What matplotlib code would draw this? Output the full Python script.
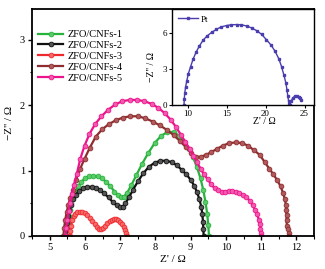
import matplotlib
matplotlib.use("Agg")
import matplotlib.pyplot as plt
from matplotlib.ticker import MultipleLocator

plt.rcParams["font.family"] = ["Liberation Serif", "DejaVu Serif"]
plt.rcParams["mathtext.fontset"] = "stix"

# ---------------- data ----------------
labels = ["ZFO/CNFs-1", "ZFO/CNFs-2", "ZFO/CNFs-3", "ZFO/CNFs-4", "ZFO/CNFs-5"]

x1 = [5.50, 5.51, 5.52, 5.54, 5.57, 5.61, 5.66, 5.73, 5.81, 5.90, 6.00, 6.12, 6.24, 6.36,
      6.48, 6.60, 6.72, 6.84, 6.94, 7.02, 7.10, 7.20, 7.32, 7.46, 7.62, 7.80, 7.98, 8.16,
      8.34, 8.52, 8.68, 8.82, 8.95, 9.07, 9.18, 9.28, 9.36, 9.42, 9.47, 9.50, 9.52]
y1 = [0.00, 0.10, 0.20, 0.30, 0.40, 0.50, 0.59, 0.68, 0.76, 0.83, 0.88, 0.91, 0.92, 0.91,
      0.88, 0.83, 0.76, 0.68, 0.62, 0.59, 0.60, 0.66, 0.78, 0.93, 1.10, 1.27, 1.42, 1.53,
      1.59, 1.59, 1.53, 1.44, 1.33, 1.20, 1.05, 0.88, 0.70, 0.52, 0.34, 0.17, 0.00]

x2 = [5.47, 5.48, 5.50, 5.52, 5.55, 5.60, 5.66, 5.74, 5.84, 5.95, 6.07, 6.19, 6.31, 6.43,
      6.55, 6.67, 6.79, 6.90, 6.99, 7.07, 7.15, 7.25, 7.37, 7.51, 7.66, 7.82, 7.98, 8.14,
      8.30, 8.46, 8.61, 8.75, 8.88, 9.00, 9.10, 9.18, 9.25, 9.30, 9.33, 9.35, 9.36, 9.37]
y2 = [0.00, 0.10, 0.20, 0.30, 0.39, 0.48, 0.56, 0.63, 0.69, 0.73, 0.75, 0.75, 0.73, 0.70,
      0.65, 0.59, 0.52, 0.47, 0.44, 0.45, 0.50, 0.59, 0.71, 0.84, 0.96, 1.06, 1.12, 1.15,
      1.15, 1.13, 1.08, 1.01, 0.94, 0.86, 0.77, 0.67, 0.56, 0.45, 0.34, 0.22, 0.11, 0.00]

x3 = [5.58, 5.59, 5.61, 5.64, 5.68, 5.73, 5.79, 5.86, 5.93, 6.00, 6.07, 6.14, 6.21, 6.28,
      6.34, 6.40, 6.46, 6.52, 6.58, 6.64, 6.70, 6.76, 6.82, 6.88, 6.94, 7.00, 7.05, 7.10,
      7.14, 7.17, 7.20]
y3 = [0.00, 0.08, 0.16, 0.24, 0.30, 0.34, 0.36, 0.37, 0.37, 0.35, 0.32, 0.28, 0.23, 0.18,
      0.14, 0.11, 0.10, 0.12, 0.16, 0.20, 0.23, 0.25, 0.26, 0.26, 0.25, 0.22, 0.18, 0.13,
      0.09, 0.05, 0.00]

x4 = [5.39, 5.41, 5.44, 5.48, 5.53, 5.58, 5.65, 5.74, 5.86, 5.99, 6.14, 6.31, 6.49, 6.68,
      6.88, 7.08, 7.29, 7.50, 7.71, 7.92, 8.13, 8.33, 8.52, 8.70, 8.86, 9.01, 9.15, 9.29,
      9.43, 9.58, 9.74, 9.91, 10.09, 10.28, 10.46, 10.63, 10.80, 10.96, 11.10, 11.23,
      11.35, 11.46, 11.55, 11.62, 11.67, 11.70, 11.71, 11.72, 11.72, 11.73, 11.76, 11.78,
      11.80]
y4 = [0.00, 0.12, 0.24, 0.36, 0.47, 0.58, 0.70, 0.85, 1.02, 1.18, 1.35, 1.52, 1.63, 1.71,
      1.77, 1.81, 1.83, 1.83, 1.80, 1.75, 1.69, 1.62, 1.54, 1.45, 1.36, 1.27, 1.21, 1.21,
      1.24, 1.28, 1.33, 1.38, 1.42, 1.43, 1.42, 1.38, 1.31, 1.24, 1.13, 1.03, 0.94, 0.85,
      0.76, 0.66, 0.57, 0.48, 0.40, 0.32, 0.24, 0.16, 0.10, 0.05, 0.00]

x5 = [5.45, 5.47, 5.50, 5.54, 5.58, 5.63, 5.69, 5.77, 5.87, 5.99, 6.13, 6.29, 6.47, 6.66,
      6.86, 7.06, 7.27, 7.48, 7.69, 7.89, 8.08, 8.26, 8.43, 8.58, 8.72, 8.85, 8.97, 9.08,
      9.18, 9.28, 9.38, 9.48, 9.58, 9.68, 9.78, 9.88, 9.98, 10.08, 10.18, 10.28, 10.38,
      10.48, 10.58, 10.68, 10.76, 10.83, 10.89, 10.93, 10.96, 10.98, 10.99, 11.00]
y5 = [0.00, 0.12, 0.25, 0.38, 0.51, 0.64, 0.78, 0.95, 1.18, 1.38, 1.56, 1.71, 1.83, 1.93,
      2.01, 2.06, 2.08, 2.08, 2.06, 2.02, 1.96, 1.88, 1.78, 1.67, 1.55, 1.44, 1.33, 1.23,
      1.13, 1.03, 0.94, 0.87, 0.79, 0.73, 0.70, 0.68, 0.68, 0.69, 0.69, 0.68, 0.66, 0.63,
      0.59, 0.54, 0.47, 0.40, 0.33, 0.25, 0.18, 0.11, 0.05, 0.00]

x_pt = [9.55, 9.58, 9.65, 9.75, 9.90, 10.1, 10.4, 10.7, 11.1, 11.5, 12.0, 12.5, 13.1, 13.7,
        14.3, 15.0, 15.6, 16.3, 16.9, 17.6, 18.2, 18.9, 19.5, 20.1, 20.7, 21.2, 21.7,
        22.05, 22.35, 22.6, 22.75, 22.85, 22.95, 23.0, 23.1, 23.3, 23.5, 23.75, 24.0,
        24.25, 24.45, 24.55]
y_pt = [0.0, 0.5, 1.0, 1.5, 2.0, 2.6, 3.2, 3.8, 4.4, 4.9, 5.4, 5.75, 6.05, 6.3,
        6.5, 6.62, 6.68, 6.7, 6.68, 6.58, 6.42, 6.18, 5.88, 5.45, 5.0, 4.5, 3.85,
        3.2, 2.5, 1.85, 1.25, 0.75, 0.35, 0.1, 0.0, 0.35, 0.6, 0.72, 0.72,
        0.65, 0.55, 0.45]

series = [(x1, y1), (x2, y2), (x3, y3), (x4, y4), (x5, y5)]
line_colors = ["#27B23C", "#111111", "#EE2A2E", "#8E2D30", "#EC148C"]
face_colors = ["#5CCB6A", "#555555", "#F56A6C", "#B05A5C", "#F25AAE"]

# ---------------- figure ----------------
fig = plt.figure(figsize=(3.25, 2.69), dpi=100)
ax = fig.add_axes([0.0985, 0.1227, 0.8677, 0.8439])

for (xs, ys), lab, c, fc in zip(series, labels, line_colors, face_colors):
    ax.plot(xs, ys, color=c, lw=1.6, marker="o", ms=3.4, mfc=fc, mec=c, mew=0.6,
            label=lab)

ax.set_xlim(4.5, 12.5)
ax.set_ylim(0, 3.47)
ax.xaxis.set_major_locator(MultipleLocator(1))
ax.xaxis.set_minor_locator(MultipleLocator(0.5))
ax.yaxis.set_major_locator(MultipleLocator(1))
ax.yaxis.set_minor_locator(MultipleLocator(0.5))
ax.tick_params(which="major", direction="out", length=3, width=1, labelsize=7.5, pad=2)
ax.tick_params(which="minor", direction="out", length=1.8, width=0.8)
for s in ax.spines.values():
    s.set_linewidth(1.3)

ax.set_xlabel("Z' / Ω", fontsize=8, labelpad=2)
ax.set_ylabel("−Z'' / Ω", fontsize=8, labelpad=4)

ax.legend(loc="upper left", bbox_to_anchor=(0.0, 0.935), frameon=False, fontsize=7.5,
          handlelength=2.4, handletextpad=0.4, labelspacing=0.15, borderaxespad=0.2)

# inset with Pt
ins = fig.add_axes([0.529, 0.6097, 0.4369, 0.357])
ins.plot(x_pt, y_pt, color="#4A3DAD", lw=1.0, marker="s", ms=1.8, mfc="#4A3DAD",
         mec="#4A3DAD", label="Pt")
ins.set_xlim(8, 26.2)
ins.set_ylim(0, 8)
ins.set_xticks([10, 15, 20, 25])
ins.set_yticks([0, 3, 6])
ins.tick_params(direction="out", length=2, width=0.8, labelsize=6.5, pad=1.5)
for s in ins.spines.values():
    s.set_linewidth(1.0)
ins.set_xlabel("Z' / Ω", fontsize=7, labelpad=0)
ins.xaxis.set_label_coords(0.65, -0.13)
ins.set_ylabel("−Z'' / Ω", fontsize=7, labelpad=1)
ins.yaxis.set_label_coords(-0.11, 0.4)
ins.legend(loc="upper left", frameon=False, fontsize=6.5, handlelength=2.2,
           handletextpad=0.3, borderaxespad=0.3)

fig.savefig("out.png", dpi=100)
